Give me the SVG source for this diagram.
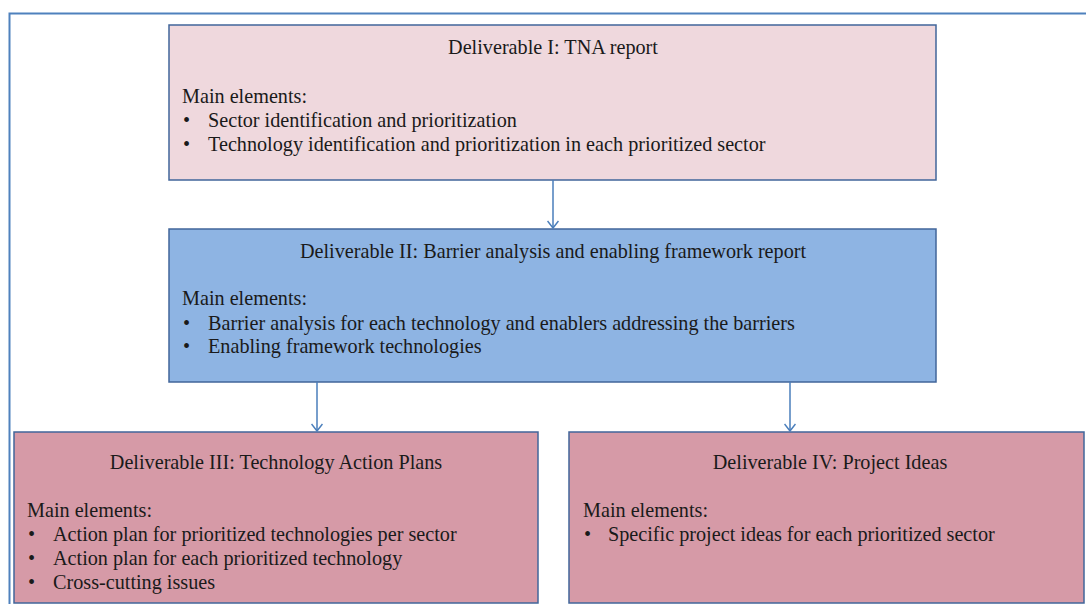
<svg xmlns="http://www.w3.org/2000/svg" width="1086" height="604" viewBox="0 0 1086 604">
<defs>
<style>
.tx{font-family:"Liberation Serif","Times New Roman",serif;font-size:20.2px;fill:#1a1a1a}
.t{text-anchor:middle}
.box{stroke:#41669a;stroke-width:1.5}
.con{stroke:#4a7ebb;stroke-width:1.5;fill:none}
</style>
<marker id="arr" markerWidth="12" markerHeight="12" refX="10" refY="6" orient="auto" markerUnits="userSpaceOnUse" viewBox="0 0 12 12">
<path d="M3,0.5 L10,6 L3,11.5" fill="none" stroke="#4a7ebb" stroke-width="1.5"/>
</marker>
</defs>
<rect width="1086" height="604" fill="#fff"/>
<path d="M9.5,604 V13.5 H1086" fill="none" stroke="#4f81bd" stroke-width="2"/>
<g id="n1" class="tx">
<rect class="box" x="169" y="25" width="767" height="155" fill="#efd8dd"/>
<text class="t" x="553" y="54">Deliverable I: TNA report</text>
<text x="182" y="103">Main elements:</text>
<text x="183" y="127">•</text><text x="208" y="127">Sector identification and prioritization</text>
<text x="183" y="151">•</text><text x="208" y="151">Technology identification and prioritization in each prioritized sector</text>
</g>
<g id="n2" class="tx">
<rect class="box" x="169" y="229" width="767" height="153" fill="#8eb4e3"/>
<text class="t" x="553" y="258">Deliverable II: Barrier analysis and enabling framework report</text>
<text x="182" y="305">Main elements:</text>
<text x="183" y="330">•</text><text x="208" y="330">Barrier analysis for each technology and enablers addressing the barriers</text>
<text x="183" y="353">•</text><text x="208" y="353">Enabling framework technologies</text>
</g>
<g id="n3" class="tx">
<rect class="box" x="14" y="432" width="524" height="171" fill="#d69aa7"/>
<text class="t" x="276" y="469">Deliverable III: Technology Action Plans</text>
<text x="27" y="517">Main elements:</text>
<text x="28" y="541">•</text><text x="53" y="541">Action plan for prioritized technologies per sector</text>
<text x="28" y="565">•</text><text x="53" y="565">Action plan for each prioritized technology</text>
<text x="28" y="589">•</text><text x="53" y="589">Cross-cutting issues</text>
</g>
<g id="n4" class="tx">
<rect class="box" x="569" y="432" width="515" height="171" fill="#d69aa7"/>
<text class="t" x="830" y="469">Deliverable IV: Project Ideas</text>
<text x="583" y="517">Main elements:</text>
<text x="584" y="541">•</text><text x="608" y="541">Specific project ideas for each prioritized sector</text>
</g>
<g id="connectors">
<line class="con" x1="553" y1="180" x2="553" y2="228" marker-end="url(#arr)"/>
<line class="con" x1="317" y1="382" x2="317" y2="431" marker-end="url(#arr)"/>
<line class="con" x1="790" y1="382" x2="790" y2="431" marker-end="url(#arr)"/>
</g>
</svg>
